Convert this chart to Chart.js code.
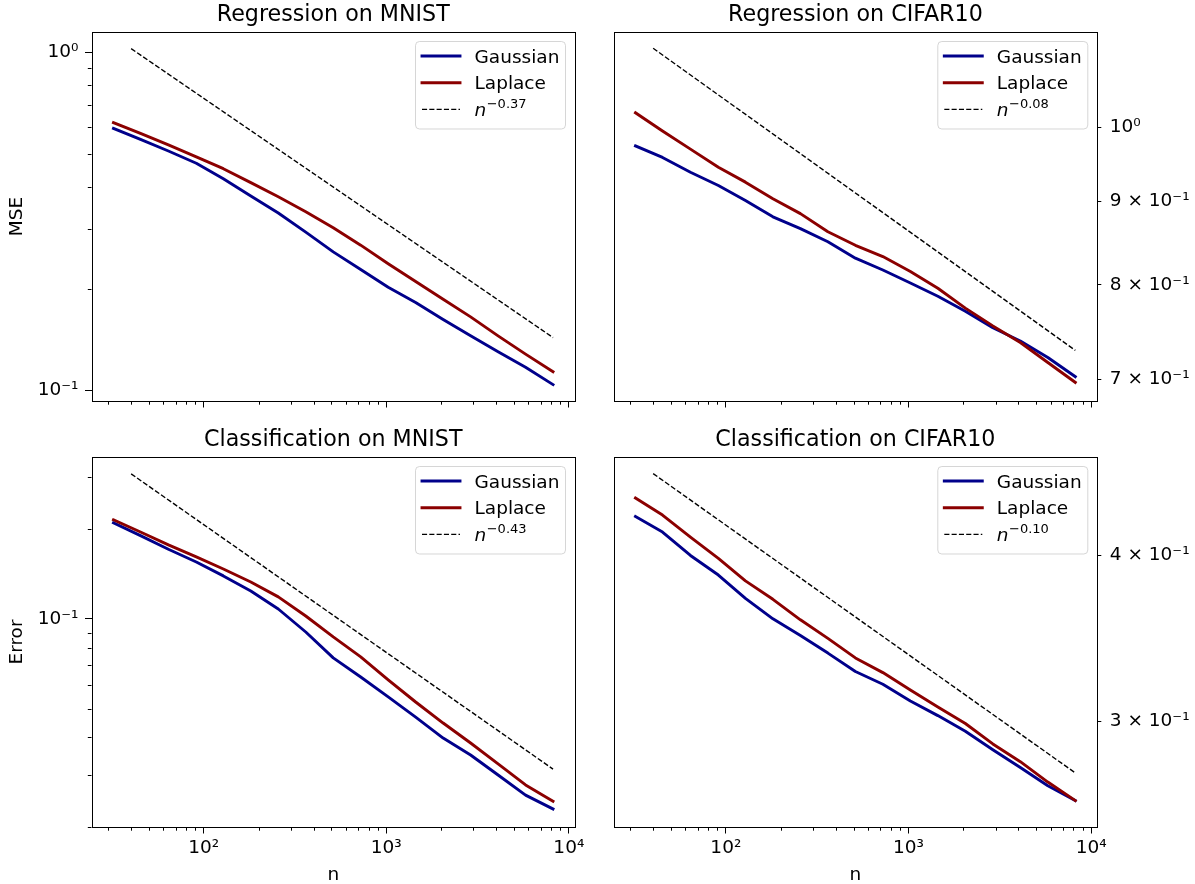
<!DOCTYPE html>
<html><head><meta charset="utf-8">
<script src="https://cdn.jsdelivr.net/npm/chart.js@4"></script>
<style>
html,body{margin:0;padding:0;background:#fff;width:1195px;height:884px;overflow:hidden}
canvas{position:absolute;left:0;top:0}
</style></head>
<body>
<canvas id="c0" width="1195" height="884"></canvas>
<canvas id="c1" width="1195" height="884"></canvas>
<canvas id="c2" width="1195" height="884"></canvas>
<canvas id="c3" width="1195" height="884"></canvas>
<script>
// ---------- data ----------
const nValues = [32,45,64,91,128,181,256,362,512,724,1024,1448,2048,2896,4096,5793,8192];

const regMnistGauss = [0.596,0.553,0.511,0.470,0.423,0.376,0.335,0.294,0.257,0.228,0.202,0.182,0.162,0.145,0.130,0.117,0.104];
const regMnistLap   = [0.620,0.576,0.533,0.491,0.453,0.412,0.374,0.338,0.303,0.269,0.237,0.210,0.186,0.165,0.145,0.128,0.1135];
const regMnistRefN  = [40, 8192];
const regMnistRefV  = [1.027, 0.1433];

const regCifarGauss = [0.9737,0.9579,0.9380,0.9206,0.9014,0.8807,0.8661,0.8502,0.8306,0.8168,0.8020,0.7870,0.7705,0.7527,0.7387,0.7217,0.7024];
const regCifarLap   = [1.0204,0.9944,0.9692,0.9446,0.9250,0.9035,0.8847,0.8622,0.8459,0.8325,0.8152,0.7960,0.7739,0.7547,0.7372,0.7166,0.6967];
const regCifarRefN  = [40, 8192];
const regCifarRefV  = [1.118, 0.729];

const clsMnistGauss = [0.2102,0.1905,0.1714,0.1554,0.1395,0.1242,0.1080,0.0904,0.0740,0.0638,0.0547,0.0468,0.0398,0.0349,0.0299,0.0256,0.0230];
const clsMnistLap   = [0.2152,0.1960,0.1773,0.1616,0.1472,0.1331,0.1186,0.1023,0.0870,0.0746,0.0624,0.0526,0.0447,0.0383,0.0326,0.0277,0.0244];
const clsMnistRefN  = [40, 8192];
const clsMnistRefV  = [0.3072, 0.0313];

const clsCifarGauss = [0.4276,0.4163,0.3998,0.3865,0.3712,0.3583,0.3481,0.3377,0.3271,0.3200,0.3109,0.3031,0.2950,0.2857,0.2771,0.2685,0.2617];
const clsCifarLap   = [0.4416,0.4287,0.4127,0.3978,0.3826,0.3706,0.3577,0.3464,0.3349,0.3265,0.3168,0.3077,0.2990,0.2886,0.2799,0.2702,0.2617];
const clsCifarRefN  = [40, 8192];
const clsCifarRefV  = [0.4606, 0.2745];

const titles = ['Regression on MNIST','Regression on CIFAR10','Classification on MNIST','Classification on CIFAR10'];
const seriesNames = ['Gaussian','Laplace'];
const refExponents = ['\u22120.37','\u22120.08','\u22120.43','\u22120.10'];

const xTicks = [100, 1000, 10000];
const xTickLabels = ['10\u00b2','10\u00b3','10\u2074'];
const xMinor = [30,40,50,60,70,80,90,200,300,400,500,600,700,800,900,2000,3000,4000,5000,6000,7000,8000,9000];

const tlYTicks = [0.1, 1];
const tlYLabels = ['10\u207b\u00b9','10\u2070'];
const tlYMinor = [0.2,0.3,0.4,0.5,0.6,0.7,0.8,0.9];

const trYTicks = [0.7, 0.8, 0.9, 1];
const trYLabels = ['7 \u00d7 10\u207b\u00b9','8 \u00d7 10\u207b\u00b9','9 \u00d7 10\u207b\u00b9','10\u2070'];

const blYTicks = [0.1];
const blYLabels = ['10\u207b\u00b9'];
const blYMinor = [0.02,0.03,0.04,0.05,0.06,0.07,0.08,0.09,0.2,0.3];

const brYTicks = [0.3, 0.4];
const brYLabels = ['3 \u00d7 10\u207b\u00b9','4 \u00d7 10\u207b\u00b9'];

const yLabels = ['MSE', null, 'Error', null];

// ---------- style ----------
const FONT = 'DejaVu Sans';
const BLUE = '#00008b', RED = '#8b0000';
const XMIN = 24.26, XMAX = 10809;

const decor = {
  id: 'decor',
  afterDraw(chart, args, o) {
    const ctx = chart.ctx, a = chart.chartArea;
    ctx.save();
    ctx.strokeStyle = '#000';
    ctx.lineWidth = 1;
    const xs = chart.scales.x, ys = chart.scales.y;
    ctx.beginPath();
    (o.minorX || []).forEach(v => {
      const p = Math.round(xs.getPixelForValue(v)) + 0.5;
      ctx.moveTo(p, a.bottom); ctx.lineTo(p, a.bottom + 3.7);
    });
    (o.minorY || []).forEach(v => {
      const p = Math.round(ys.getPixelForValue(v)) + 0.5;
      ctx.moveTo(a.left, p); ctx.lineTo(a.left - 3.7, p);
    });
    ctx.stroke();
    const L = Math.round(a.left) + 0.5, T = Math.round(a.top) + 0.5;
    const R = Math.round(a.right) + 0.5, B = Math.round(a.bottom) + 0.5;
    ctx.strokeRect(L, T, R - L, B - T);
    // legend
    const w = 150, h = 87.5;
    const x0 = a.right - 9.5 - w, y0 = a.top + 9.5;
    ctx.beginPath();
    if (ctx.roundRect) ctx.roundRect(x0, y0, w, h, 4); else ctx.rect(x0, y0, w, h);
    ctx.fillStyle = 'rgba(255,255,255,0.8)';
    ctx.fill();
    ctx.strokeStyle = 'rgba(204,204,204,0.8)';
    ctx.lineWidth = 1;
    ctx.stroke();
    const ds = chart.data.datasets;
    ds.forEach((d, i) => {
      const yy = y0 + 14.5 + i * 26.7;
      ctx.beginPath();
      ctx.strokeStyle = d.borderColor;
      ctx.lineWidth = d.borderWidth;
      ctx.setLineDash(d.borderDash || []);
      ctx.lineCap = d.borderDash ? 'butt' : 'square';
      ctx.moveTo(x0 + 6.5, yy); ctx.lineTo(x0 + 44.5, yy);
      ctx.stroke();
      ctx.setLineDash([]);
      ctx.fillStyle = '#000';
      ctx.textBaseline = 'alphabetic';
      ctx.textAlign = 'left';
      if (i < 2) {
        ctx.font = '18.5px "' + FONT + '"';
        ctx.fillText(d.label, x0 + 59, yy + 6.5);
      } else {
        ctx.font = 'italic 18.5px "' + FONT + '"';
        ctx.fillText('n', x0 + 59, yy + 6.5);
        const nw = ctx.measureText('n').width;
        ctx.font = '13px "' + FONT + '"';
        ctx.fillText(o.exponent, x0 + 59 + nw + 0.5, yy - 1.5);
      }
    });
    ctx.restore();
  }
};

function pts(xs, ys) { return xs.map((x, i) => ({x: x, y: ys[i]})); }

function panel(id, p) {
  const isBottom = p.row === 1, isLeft = p.col === 0;
  const tickFont = {family: FONT, size: 18.5};
  new Chart(document.getElementById(id), {
    type: 'line',
    data: {datasets: [
      {label: seriesNames[0], data: pts(nValues, p.g), borderColor: BLUE, borderWidth: 2.9, pointRadius: 0, tension: 0, order: 3, borderJoinStyle: 'round', borderCapStyle: 'square'},
      {label: seriesNames[1], data: pts(nValues, p.l), borderColor: RED, borderWidth: 2.9, pointRadius: 0, tension: 0, order: 2, borderJoinStyle: 'round', borderCapStyle: 'square'},
      {label: 'ref', data: pts(p.rn, p.rv), borderColor: '#000', borderWidth: 1.4, borderDash: [5.1, 2.2], pointRadius: 0, tension: 0, order: 1}
    ]},
    options: {
      responsive: false, animation: false, events: [],
      layout: {padding: p.pad},
      plugins: {
        legend: {display: false}, tooltip: {enabled: false},
        title: {display: true, text: p.title, color: '#000', fullSize: false,
                font: {family: FONT, size: 22.2, weight: 'normal'}, padding: {top: 2, bottom: 3.36}},
        decor: {minorX: xMinor, minorY: p.yMinor || [], exponent: p.exp}
      },
      scales: {
        x: {
          type: 'logarithmic', position: 'bottom', min: XMIN, max: XMAX,
          afterBuildTicks: s => { s.ticks = xTicks.map(v => ({value: v})); },
          afterFit: s => { s.height = p.xh; },
          ticks: {display: isBottom, autoSkip: false, maxRotation: 0, color: '#000', font: tickFont, padding: 3.5,
                  callback: (v, i) => xTickLabels[i]},
          grid: {display: true, drawOnChartArea: false, drawTicks: true, tickLength: 6.5, tickColor: '#000', tickWidth: 1},
          border: {display: false},
          title: {display: isBottom, text: 'n', color: '#000', font: {family: FONT, size: 18.5, lineHeight: 0.9}, padding: {top: 0, bottom: 0}}
        },
        y: {
          type: 'logarithmic', position: isLeft ? 'left' : 'right', min: p.ymin, max: p.ymax,
          afterBuildTicks: s => { s.ticks = p.yt.map(v => ({value: v})); },
          afterFit: s => { s.width = p.yw; },
          ticks: {autoSkip: false, color: '#000', font: tickFont, padding: isLeft ? 6.5 : 8.5,
                  callback: (v, i) => p.yl[i]},
          grid: {display: true, drawOnChartArea: false, drawTicks: true, tickLength: isLeft ? 6.5 : 4, tickColor: '#000', tickWidth: 1},
          border: {display: false},
          title: {display: !!p.ytitle, text: p.ytitle || '', color: '#000', font: {family: FONT, size: 18.5}, padding: {top: 6.4, bottom: 0}}
        }
      }
    },
    plugins: [decor]
  });
}

panel('c0', {row: 0, col: 0, title: titles[0], g: regMnistGauss, l: regMnistLap, rn: regMnistRefN, rv: regMnistRefV, exp: refExponents[0],
  ymin: 0.093, ymax: 1.15, yt: tlYTicks, yl: tlYLabels, yMinor: tlYMinor, ytitle: yLabels[0],
  yw: 91.5, xh: 483, pad: {left: 0, right: 620, top: 0, bottom: 0}});
panel('c1', {row: 0, col: 1, title: titles[1], g: regCifarGauss, l: regCifarLap, rn: regCifarRefN, rv: regCifarRefV, exp: refExponents[1],
  ymin: 0.6786, ymax: 1.144, yt: trYTicks, yl: trYLabels, ytitle: yLabels[1],
  yw: 97.7, xh: 483, pad: {left: 613.5, right: 0, top: 0, bottom: 0}});
panel('c2', {row: 1, col: 0, title: titles[2], g: clsMnistGauss, l: clsMnistLap, rn: clsMnistRefN, rv: clsMnistRefV, exp: refExponents[2],
  ymin: 0.0200, ymax: 0.350, yt: blYTicks, yl: blYLabels, yMinor: blYMinor, ytitle: yLabels[2],
  yw: 91.5, xh: 57, pad: {left: 0, right: 620, top: 425, bottom: 0}});
panel('c3', {row: 1, col: 1, title: titles[3], g: clsCifarGauss, l: clsCifarLap, rn: clsCifarRefN, rv: clsCifarRefV, exp: refExponents[3],
  ymin: 0.254, ymax: 0.474, yt: brYTicks, yl: brYLabels, ytitle: yLabels[3],
  yw: 97.7, xh: 57, pad: {left: 613.5, right: 0, top: 425, bottom: 0}});
</script>
</body></html>
